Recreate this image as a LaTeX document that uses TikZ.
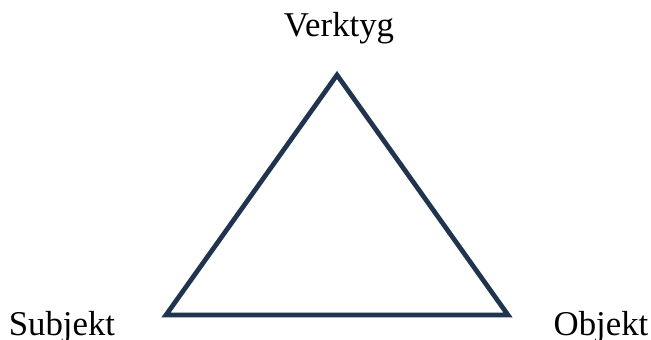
\documentclass[tikz,border=0pt]{standalone}
\usepackage{fontspec}
\setmainfont{Liberation Serif}
\begin{document}
\begin{tikzpicture}[x=0.02cm,y=-0.02cm,line cap=round,line join=miter]
  \tikzset{side/.style={line width=2.7pt,draw={rgb,255:red,32;green,52;blue,80}},
    lbl/.style={font=\fontsize{19.8pt}{24pt}\selectfont,inner sep=0pt,anchor=base}}
  \useasboundingbox (0,0) rectangle (651,340);
  \coordinate (top) at (337,75);
  \coordinate (left) at (166,315);
  \coordinate (right) at (508,315);
  \draw[side] (left) -- (top) -- (right) -- cycle;
  \node[lbl] (verktyg) at (339,37) {Verktyg};
  \node[lbl] (subjekt) at (62,335) {Subjekt};
  \node[lbl] (objekt) at (601,335) {Objekt};
\end{tikzpicture}
\end{document}
